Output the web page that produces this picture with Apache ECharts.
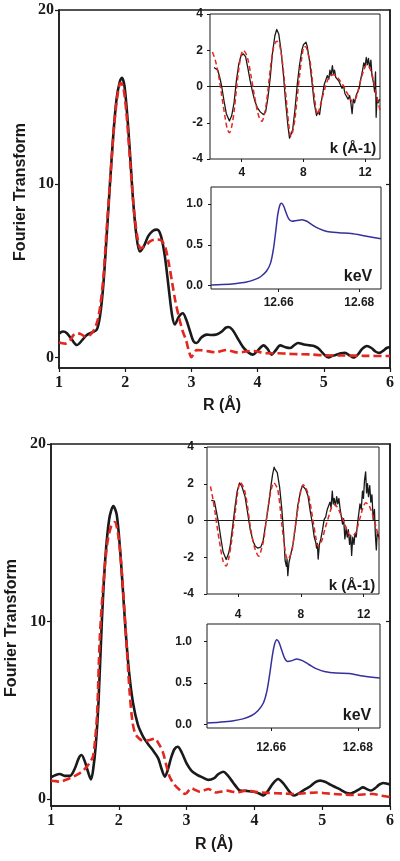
<!DOCTYPE html>
<html><head><meta charset="utf-8">
<script src="https://cdn.jsdelivr.net/npm/echarts@6/dist/echarts.min.js"></script>
<style>html,body{margin:0;padding:0;background:#fff}#c{width:400px;height:861px}</style>
</head><body><div id="c"></div>
<script>
// ---------- DATA ----------
// Main panels: R (Å) vs Fourier Transform magnitude
const R_ticks = [1, 2, 3, 4, 5, 6];
const FT_ticks = [0, 10, 20];
const topFT_exp = [[1.0,1.38],[1.06,1.5],[1.12,1.4],[1.2,1.0],[1.27,0.72],[1.35,1.0],[1.42,1.3],[1.5,1.45],[1.57,1.6],[1.62,2.4],[1.67,4.2],[1.72,7.0],[1.77,10.0],[1.82,12.8],[1.87,14.9],[1.92,15.9],[1.95,16.1],[1.99,15.6],[2.04,13.5],[2.08,11.3],[2.12,9.0],[2.17,7.0],[2.22,6.1],[2.28,6.4],[2.35,7.0],[2.42,7.3],[2.48,7.36],[2.54,7.0],[2.6,5.8],[2.66,3.9],[2.71,2.4],[2.75,1.9],[2.81,2.35],[2.87,2.55],[2.92,2.2],[2.98,1.5],[3.03,0.95],[3.08,0.84],[3.15,1.15],[3.23,1.32],[3.3,1.3],[3.38,1.33],[3.46,1.5],[3.52,1.72],[3.56,1.76],[3.62,1.6],[3.7,1.1],[3.78,0.6],[3.86,0.3],[3.93,0.17],[4.0,0.4],[4.09,0.7],[4.15,0.5],[4.21,0.17],[4.28,0.45],[4.34,0.7],[4.42,0.6],[4.49,0.55],[4.55,0.7],[4.61,0.84],[4.7,0.75],[4.79,0.7],[4.86,0.65],[4.92,0.52],[5.0,0.2],[5.07,0.0],[5.13,0.1],[5.2,0.17],[5.26,0.25],[5.32,0.27],[5.39,0.12],[5.45,0.0],[5.52,0.2],[5.58,0.5],[5.65,0.67],[5.72,0.55],[5.78,0.35],[5.84,0.27],[5.9,0.4],[5.95,0.55],[6.0,0.6]];
const topFT_fit = [[1.0,0.88],[1.05,0.82],[1.1,0.8],[1.17,1.0],[1.22,1.3],[1.27,1.4],[1.33,1.35],[1.4,1.2],[1.47,1.3],[1.53,1.6],[1.58,2.1],[1.62,2.9],[1.67,4.6],[1.72,7.4],[1.78,10.6],[1.83,13.2],[1.88,15.0],[1.93,15.8],[1.97,15.6],[2.02,14.0],[2.06,12.0],[2.1,10.0],[2.14,8.2],[2.19,6.8],[2.23,6.3],[2.3,6.4],[2.38,6.7],[2.46,6.8],[2.54,6.75],[2.6,6.4],[2.66,5.4],[2.71,4.3],[2.76,3.2],[2.82,2.2],[2.87,1.5],[2.92,1.0],[2.96,0.4],[3.0,0.02],[3.04,0.25],[3.08,0.44],[3.15,0.42],[3.23,0.38],[3.3,0.33],[3.38,0.3],[3.45,0.38],[3.53,0.44],[3.6,0.38],[3.68,0.3],[3.78,0.32],[3.88,0.38],[3.95,0.38],[4.05,0.3],[4.15,0.25],[4.3,0.25],[4.45,0.22],[4.6,0.2],[4.8,0.18],[5.0,0.13],[5.3,0.12],[5.6,0.1],[6.0,0.09]];
const botFT_exp = [[1.0,1.22],[1.07,1.35],[1.13,1.4],[1.2,1.3],[1.28,1.3],[1.35,1.7],[1.41,2.3],[1.45,2.47],[1.5,2.1],[1.54,1.6],[1.59,1.1],[1.62,1.6],[1.66,3.0],[1.7,5.4],[1.75,10.0],[1.8,13.5],[1.86,15.8],[1.92,16.5],[1.97,16.0],[2.02,14.0],[2.06,11.8],[2.1,9.5],[2.15,7.2],[2.21,5.4],[2.28,4.2],[2.36,3.5],[2.43,3.1],[2.5,2.75],[2.58,2.3],[2.63,1.7],[2.68,1.25],[2.72,1.6],[2.77,2.3],[2.82,2.8],[2.87,2.94],[2.93,2.6],[3.0,2.0],[3.07,1.6],[3.15,1.37],[3.24,1.2],[3.32,1.07],[3.4,1.15],[3.47,1.4],[3.54,1.53],[3.6,1.35],[3.69,0.9],[3.75,0.6],[3.79,0.47],[3.88,0.45],[3.99,0.4],[4.07,0.3],[4.13,0.19],[4.2,0.45],[4.27,0.85],[4.35,1.12],[4.42,0.9],[4.48,0.6],[4.53,0.35],[4.58,0.19],[4.65,0.3],[4.73,0.5],[4.82,0.7],[4.9,0.95],[4.97,1.03],[5.05,0.95],[5.12,0.8],[5.2,0.65],[5.28,0.5],[5.35,0.35],[5.41,0.3],[5.48,0.4],[5.55,0.55],[5.6,0.65],[5.66,0.55],[5.72,0.47],[5.78,0.6],[5.84,0.8],[5.9,0.9],[5.96,0.85],[6.0,0.8]];
const botFT_fit = [[1.0,1.03],[1.07,1.0],[1.13,0.97],[1.2,1.05],[1.3,1.2],[1.38,1.35],[1.46,1.55],[1.53,1.82],[1.58,2.1],[1.62,2.4],[1.65,3.3],[1.68,4.8],[1.72,9.1],[1.77,12.0],[1.83,14.4],[1.89,15.4],[1.94,15.6],[1.99,14.9],[2.04,13.0],[2.08,10.8],[2.12,8.4],[2.16,6.0],[2.2,4.4],[2.24,3.7],[2.3,3.4],[2.36,3.27],[2.44,3.3],[2.53,3.4],[2.59,3.1],[2.65,2.64],[2.7,1.9],[2.75,1.25],[2.82,0.8],[2.9,0.5],[2.98,0.28],[3.07,0.6],[3.13,0.5],[3.2,0.4],[3.26,0.48],[3.32,0.56],[3.38,0.45],[3.44,0.36],[3.52,0.42],[3.59,0.47],[3.66,0.42],[3.74,0.36],[3.81,0.42],[3.88,0.47],[3.98,0.42],[4.08,0.36],[4.2,0.34],[4.32,0.32],[4.45,0.3],[4.58,0.28],[4.75,0.32],[4.92,0.36],[5.05,0.32],[5.17,0.28],[5.3,0.25],[5.46,0.22],[5.6,0.25],[5.75,0.28],[5.88,0.18],[6.0,0.1]];

// k-space insets: k (Å-1) vs chi
const k_ticks = [4, 8, 12];
const topK_exp = [[2.2,1.05],[2.3,1.1],[2.45,0.9],[2.6,0.4],[2.7,0],[2.85,-0.8],[3.0,-1.5],[3.2,-1.9],[3.35,-1.6],[3.5,-0.9],[3.65,0.3],[3.8,1.2],[3.95,1.7],[4.1,1.8],[4.25,1.65],[4.4,1.0],[4.55,0.3],[4.7,-0.3],[4.85,-0.8],[5.0,-1.15],[5.2,-1.4],[5.4,-1.55],[5.55,-1.4],[5.7,-0.6],[5.85,0.5],[6.0,1.9],[6.15,2.8],[6.27,3.15],[6.4,2.9],[6.55,2.0],[6.7,0.7],[6.85,-0.9],[7.0,-2.2],[7.1,-2.85],[7.18,-2.95],[7.3,-2.4],[7.45,-1.3],[7.6,0.1],[7.75,1.2],[7.9,2.0],[8.0,2.3],[8.1,2.2],[8.17,2.45],[8.25,2.2],[8.4,1.4],[8.55,0.3],[8.7,-0.9],[8.85,-1.6],[8.95,-1.4],[9.05,-1.55],[9.15,-0.9],[9.25,-0.4],[9.35,0.1],[9.45,0.2],[9.55,0.6],[9.65,0.4],[9.72,0.9],[9.8,0.6],[9.88,1.15],[9.95,0.7],[10.02,0.9],[10.1,0.5],[10.2,0.6],[10.3,0.3],[10.4,0.2],[10.5,-0.1],[10.6,0.05],[10.7,-0.4],[10.8,-0.3],[10.9,-0.7],[11.0,-0.5],[11.08,-0.9],[11.16,-1.5],[11.24,-0.7],[11.32,-0.9],[11.42,-0.5],[11.52,-0.6],[11.62,-0.1],[11.72,0.4],[11.82,0.8],[11.92,1.3],[12.0,1.1],[12.08,1.6],[12.15,1.2],[12.22,1.55],[12.3,1.0],[12.38,1.45],[12.45,0.6],[12.55,0.2],[12.62,-0.3],[12.68,0.8],[12.72,-1.7],[12.78,-0.6],[12.85,-0.9],[12.95,-0.7]];
const topK_fit = [[2.1,1.9],[2.3,1.4],[2.5,0.6],[2.7,-0.5],[2.9,-1.6],[3.05,-2.3],[3.2,-2.55],[3.35,-2.2],[3.5,-1.4],[3.65,-0.2],[3.8,0.9],[3.95,1.7],[4.1,2.0],[4.25,1.85],[4.4,1.5],[4.6,0.6],[4.8,-0.4],[5.0,-1.3],[5.15,-1.75],[5.3,-1.92],[5.45,-1.6],[5.6,-0.9],[5.75,0.2],[5.9,1.3],[6.05,2.1],[6.2,2.45],[6.3,2.5],[6.45,2.3],[6.6,1.6],[6.75,0.5],[6.9,-0.8],[7.05,-2.1],[7.18,-2.75],[7.3,-2.5],[7.45,-1.8],[7.6,-0.6],[7.75,0.6],[7.9,1.6],[8.05,2.2],[8.15,2.2],[8.3,1.8],[8.45,1.3],[8.6,0.2],[8.75,-0.8],[8.9,-1.55],[9.05,-1.2],[9.2,-0.7],[9.4,-0.1],[9.6,0.4],[9.8,0.6],[9.95,0.65],[10.15,0.55],[10.35,0.35],[10.55,0.1],[10.8,-0.3],[11.0,-0.6],[11.2,-0.85],[11.35,-0.75],[11.5,-0.4],[11.7,0.3],[11.9,0.85],[12.1,1.2],[12.25,1.1],[12.45,0.7],[12.6,0.1],[12.8,-0.7],[12.97,-1.3]];
const botK_exp = [[2.3,1.1],[2.4,1.15],[2.5,1.05],[2.6,0.6],[2.76,-0.1],[2.9,-0.9],[3.05,-1.7],[3.25,-2.12],[3.4,-1.8],[3.5,-1.4],[3.65,-0.4],[3.82,0.8],[3.95,1.6],[4.1,2.05],[4.25,1.85],[4.45,1.3],[4.6,0.5],[4.78,-0.5],[4.95,-1.1],[5.1,-1.4],[5.25,-1.5],[5.32,-1.58],[5.45,-1.45],[5.6,-1.1],[5.8,0.0],[5.96,0.96],[6.1,1.9],[6.2,2.5],[6.3,2.9],[6.38,2.75],[6.5,2.6],[6.65,1.8],[6.78,0.7],[6.9,-0.6],[7.0,-2.2],[7.08,-2.5],[7.12,-2.1],[7.17,-3.0],[7.24,-2.3],[7.34,-2.2],[7.5,-1.3],[7.66,-0.3],[7.8,0.8],[7.98,1.6],[8.1,1.9],[8.19,1.95],[8.3,1.7],[8.45,1.35],[8.6,0.5],[8.73,-0.15],[8.85,-0.9],[8.95,-1.2],[9.0,-1.5],[9.05,-1.25],[9.1,-2.1],[9.18,-1.3],[9.27,-1.0],[9.38,-0.5],[9.48,0.05],[9.58,0.2],[9.68,0.6],[9.78,0.5],[9.85,1.0],[9.92,0.7],[10.0,1.6],[10.06,0.9],[10.12,1.2],[10.2,0.8],[10.28,1.3],[10.35,0.9],[10.42,1.2],[10.5,0.6],[10.58,0.5],[10.65,-0.2],[10.72,0.1],[10.8,-1.0],[10.88,-0.4],[10.95,-0.9],[11.02,-0.5],[11.1,-1.3],[11.17,-0.8],[11.23,-1.9],[11.3,-0.9],[11.38,-1.3],[11.44,-0.7],[11.52,-0.9],[11.6,-0.2],[11.68,-0.3],[11.76,0.9],[11.84,0.6],[11.92,1.6],[11.98,1.2],[12.05,2.2],[12.12,2.65],[12.18,1.5],[12.24,2.0],[12.3,1.3],[12.38,1.9],[12.45,1.0],[12.52,1.4],[12.6,0.05],[12.68,0.6],[12.74,-0.8],[12.8,-1.6],[12.86,-0.6],[12.95,-0.9]];
const botK_fit = [[2.25,1.86],[2.4,1.2],[2.55,0.4],[2.7,-0.5],[2.87,-1.4],[3.05,-2.2],[3.25,-2.48],[3.4,-2.1],[3.55,-1.4],[3.7,-0.4],[3.82,0.4],[3.98,1.5],[4.15,2.08],[4.3,1.9],[4.46,1.5],[4.62,0.7],[4.78,-0.3],[4.95,-1.1],[5.1,-1.58],[5.32,-1.94],[5.48,-1.6],[5.64,-1.03],[5.8,0.0],[5.96,0.96],[6.12,1.7],[6.28,2.05],[6.42,1.9],[6.53,1.68],[6.67,0.8],[6.8,-0.3],[6.95,-1.3],[7.05,-1.9],[7.17,-2.12],[7.3,-1.95],[7.45,-1.58],[7.6,-0.6],[7.77,0.4],[7.95,1.4],[8.15,1.95],[8.3,1.8],[8.51,1.3],[8.68,0.5],[8.83,-0.3],[8.95,-0.9],[9.08,-1.4],[9.2,-1.3],[9.36,-1.03],[9.55,-0.4],[9.78,0.24],[9.95,0.7],[10.1,0.87],[10.25,0.8],[10.4,0.6],[10.6,0.2],[10.84,-0.3],[11.0,-0.65],[11.17,-0.85],[11.35,-0.8],[11.5,-0.67],[11.65,-0.2],[11.8,0.24],[11.95,0.7],[12.13,0.96],[12.3,0.85],[12.45,0.6],[12.6,0.2],[12.77,-0.3],[12.98,-1.03]];

// XANES insets: energy (keV) vs normalized absorption
const E_ticks = [12.66, 12.68];
const abs_ticks = [0, 0.5, 1.0];
const topXANES = [[12.6432,0.01],[12.646,0.015],[12.649,0.025],[12.652,0.045],[12.654,0.075],[12.6555,0.11],[12.657,0.18],[12.658,0.28],[12.6587,0.45],[12.6593,0.68],[12.6598,0.88],[12.6603,0.99],[12.6607,1.01],[12.6612,0.98],[12.6618,0.9],[12.6625,0.82],[12.6633,0.79],[12.6645,0.8],[12.6658,0.81],[12.667,0.79],[12.6685,0.74],[12.67,0.7],[12.672,0.665],[12.675,0.65],[12.678,0.64],[12.6815,0.61],[12.6854,0.575]];
const botXANES = [[12.6452,0.02],[12.648,0.03],[12.651,0.045],[12.6535,0.07],[12.6555,0.11],[12.657,0.17],[12.6582,0.26],[12.659,0.4],[12.6597,0.62],[12.6603,0.84],[12.6608,0.97],[12.6613,1.02],[12.6618,0.99],[12.6624,0.9],[12.6631,0.8],[12.6638,0.76],[12.6648,0.77],[12.6659,0.79],[12.6672,0.77],[12.6688,0.72],[12.6705,0.67],[12.6725,0.635],[12.675,0.62],[12.678,0.615],[12.6812,0.585],[12.6851,0.56]];

// ---------- CHART ----------
const INK = '#1a1a1a', RED = '#e3261f', BLUE = '#35309c';
const SERIF = '"Liberation Serif","Times New Roman",serif';
const SANS = '"Liberation Sans",Arial,sans-serif';

const chart = echarts.init(document.getElementById('c'), null, {renderer: 'canvas'});

function mainGrid(l, t, w, h) { return {left: l, top: t, width: w, height: h, show: true, borderColor: INK, borderWidth: 1.5, backgroundColor: 'transparent', containLabel: false, outerBoundsMode: 'none'}; }
function insetGrid(l, t, w, h) { return {left: l, top: t, width: w, height: h, show: true, borderColor: INK, borderWidth: 1, backgroundColor: '#fff', containLabel: false, outerBoundsMode: 'none', z: 5}; }

function mainX(gi) {
  return {type: 'value', gridIndex: gi, min: 1, max: 6, interval: 1,
    axisLine: {show: true, onZero: false, lineStyle: {color: INK, width: 1.5}},
    axisTick: {show: true, inside: false, length: 4, lineStyle: {color: INK, width: 1.2}},
    axisLabel: {show: true, margin: 7, color: INK, fontFamily: SERIF, fontWeight: 'bold', fontSize: 16, customValues: R_ticks},
    splitLine: {show: false}};
}
function mainY(gi, min, m) {
  return {type: 'value', gridIndex: gi, min: min, max: 20,
    axisLine: {show: true, onZero: false, lineStyle: {color: INK, width: 1.5}},
    axisTick: {show: true, inside: false, length: 4, customValues: FT_ticks, lineStyle: {color: INK, width: 1.2}},
    axisLabel: {show: true, margin: m, color: INK, fontFamily: SERIF, fontWeight: 'bold', fontSize: 16, customValues: FT_ticks},
    splitLine: {show: false}};
}
function mainYRight(gi, min) {
  return {type: 'value', gridIndex: gi, min: min, max: 20, position: 'right',
    axisLine: {show: true, onZero: false, lineStyle: {color: INK, width: 1.5}},
    axisTick: {show: true, inside: true, length: 4, customValues: [10], lineStyle: {color: INK, width: 1.2}},
    axisLabel: {show: false}, splitLine: {show: false}};
}
function kX(gi, min, max, m) {
  return {type: 'value', gridIndex: gi, min: min, max: max,
    axisLine: {show: false, onZero: false},
    axisTick: {show: true, inside: false, length: 3, customValues: k_ticks, lineStyle: {color: INK}},
    axisLabel: {show: true, margin: m, color: INK, fontFamily: SANS, fontWeight: 'bold', fontSize: 12, customValues: k_ticks},
    splitLine: {show: false}};
}
function kY(gi, m) {
  return {type: 'value', gridIndex: gi, min: -4, max: 4, interval: 2,
    axisLine: {show: false, onZero: false},
    axisTick: {show: true, inside: false, length: 3, lineStyle: {color: INK}},
    axisLabel: {show: true, margin: m, color: INK, fontFamily: SANS, fontWeight: 'bold', fontSize: 12},
    splitLine: {show: false}};
}
function eX(gi, min, max, m) {
  return {type: 'value', gridIndex: gi, min: min, max: max,
    axisLine: {show: false, onZero: false},
    axisTick: {show: true, inside: false, length: 3, customValues: E_ticks, lineStyle: {color: INK}},
    axisLabel: {show: true, margin: m, color: INK, fontFamily: SANS, fontWeight: 'bold', fontSize: 12, customValues: E_ticks, formatter: v => v.toFixed(2)},
    splitLine: {show: false}};
}
function eY(gi, min, max, m) {
  return {type: 'value', gridIndex: gi, min: min, max: max,
    axisLine: {show: false, onZero: false},
    axisTick: {show: true, inside: false, length: 3, customValues: abs_ticks, lineStyle: {color: INK}},
    axisLabel: {show: true, margin: m, color: INK, fontFamily: SANS, fontWeight: 'bold', fontSize: 12, customValues: abs_ticks, formatter: v => v.toFixed(1)},
    splitLine: {show: false}};
}

function line(xi, yi, data, color, width, dashed, smooth, z) {
  return {type: 'line', xAxisIndex: xi, yAxisIndex: yi, data: data, showSymbol: false, symbol: 'none',
    smooth: smooth, clip: true, z: z || 2, animation: false,
    lineStyle: {color: color, width: width, type: dashed ? dashed : 'solid', cap: 'butt', join: 'round'}};
}
function zeroLine() {
  return {silent: true, symbol: ['none', 'none'], label: {show: false}, animation: false,
    lineStyle: {color: INK, type: 'solid', width: 1}, data: [{yAxis: 0}]};
}

const option = {
  backgroundColor: '#fff',
  animation: false,
  grid: [
    mainGrid(59, 10, 331, 358),     // 0 top main
    insetGrid(210, 14, 170, 145),   // 1 top k
    insetGrid(211, 187, 170, 102),  // 2 top XANES
    mainGrid(51, 444, 339, 362),    // 3 bottom main
    insetGrid(207, 447, 172, 147),  // 4 bottom k
    insetGrid(207, 624, 173, 104)   // 5 bottom XANES
  ],
  xAxis: [
    mainX(0),
    kX(1, 1.94, 12.97, 8),
    eX(2, 12.6432, 12.6854, 8),
    mainX(3),
    kX(4, 2.03, 12.97, 15),
    eX(5, 12.6452, 12.6851, 14)
  ],
  yAxis: [
    mainY(0, -0.6, 5),
    kY(1, 7),
    eY(2, -0.04, 1.21, 8),
    mainY(3, -0.4, 5),
    kY(4, 13),
    eY(5, -0.04, 1.21, 15),
    mainYRight(0, -0.6),
    mainYRight(3, -0.4)
  ],
  series: [
    line(0, 0, topFT_exp, INK, 2.6, null, 0.3, 3),
    line(0, 0, topFT_fit, RED, 2.6, [8, 4], 0.3, 4),
    Object.assign(line(1, 1, topK_exp, INK, 1.3, null, false, 10), {markLine: zeroLine()}),
    line(1, 1, topK_fit, RED, 1.5, [5, 3], 0.3, 11),
    line(2, 2, topXANES, BLUE, 1.5, null, 0.3, 10),
    line(3, 3, botFT_exp, INK, 2.6, null, 0.3, 3),
    line(3, 3, botFT_fit, RED, 2.6, [8, 4], 0.3, 4),
    Object.assign(line(4, 4, botK_exp, INK, 1.3, null, false, 10), {markLine: zeroLine()}),
    line(4, 4, botK_fit, RED, 1.5, [5, 3], 0.3, 11),
    line(5, 5, botXANES, BLUE, 1.5, null, 0.3, 10)
  ],
  graphic: [
    {type: 'text', x: 21, y: 192, rotation: Math.PI / 2, z: 20,
      style: {text: 'Fourier Transform', font: 'bold 16px ' + SANS, fill: INK, align: 'center', verticalAlign: 'middle', textAlign: 'center', textVerticalAlign: 'middle'}},
    {type: 'text', x: 12, y: 628, rotation: Math.PI / 2, z: 20,
      style: {text: 'Fourier Transform', font: 'bold 16px ' + SANS, fill: INK, align: 'center', verticalAlign: 'middle', textAlign: 'center', textVerticalAlign: 'middle'}},
    {type: 'text', x: 222, y: 406, z: 20,
      style: {text: 'R (Å)', font: 'bold 16px ' + SANS, fill: INK, align: 'center', verticalAlign: 'middle', textAlign: 'center', textVerticalAlign: 'middle'}},
    {type: 'text', x: 214, y: 845, z: 20,
      style: {text: 'R (Å)', font: 'bold 16px ' + SANS, fill: INK, align: 'center', verticalAlign: 'middle', textAlign: 'center', textVerticalAlign: 'middle'}},
    {type: 'text', x: 353, y: 149, z: 20,
      style: {text: 'k (Å-1)', font: 'bold 15px ' + SANS, fill: INK, align: 'center', verticalAlign: 'middle', textAlign: 'center', textVerticalAlign: 'middle'}},
    {type: 'text', x: 352, y: 586, z: 20,
      style: {text: 'k (Å-1)', font: 'bold 15px ' + SANS, fill: INK, align: 'center', verticalAlign: 'middle', textAlign: 'center', textVerticalAlign: 'middle'}},
    {type: 'text', x: 358, y: 277, z: 20,
      style: {text: 'keV', font: 'bold 16px ' + SANS, fill: INK, align: 'center', verticalAlign: 'middle', textAlign: 'center', textVerticalAlign: 'middle'}},
    {type: 'text', x: 357, y: 716, z: 20,
      style: {text: 'keV', font: 'bold 16px ' + SANS, fill: INK, align: 'center', verticalAlign: 'middle', textAlign: 'center', textVerticalAlign: 'middle'}}
  ]
};
chart.setOption(option);
</script>
</body></html>
